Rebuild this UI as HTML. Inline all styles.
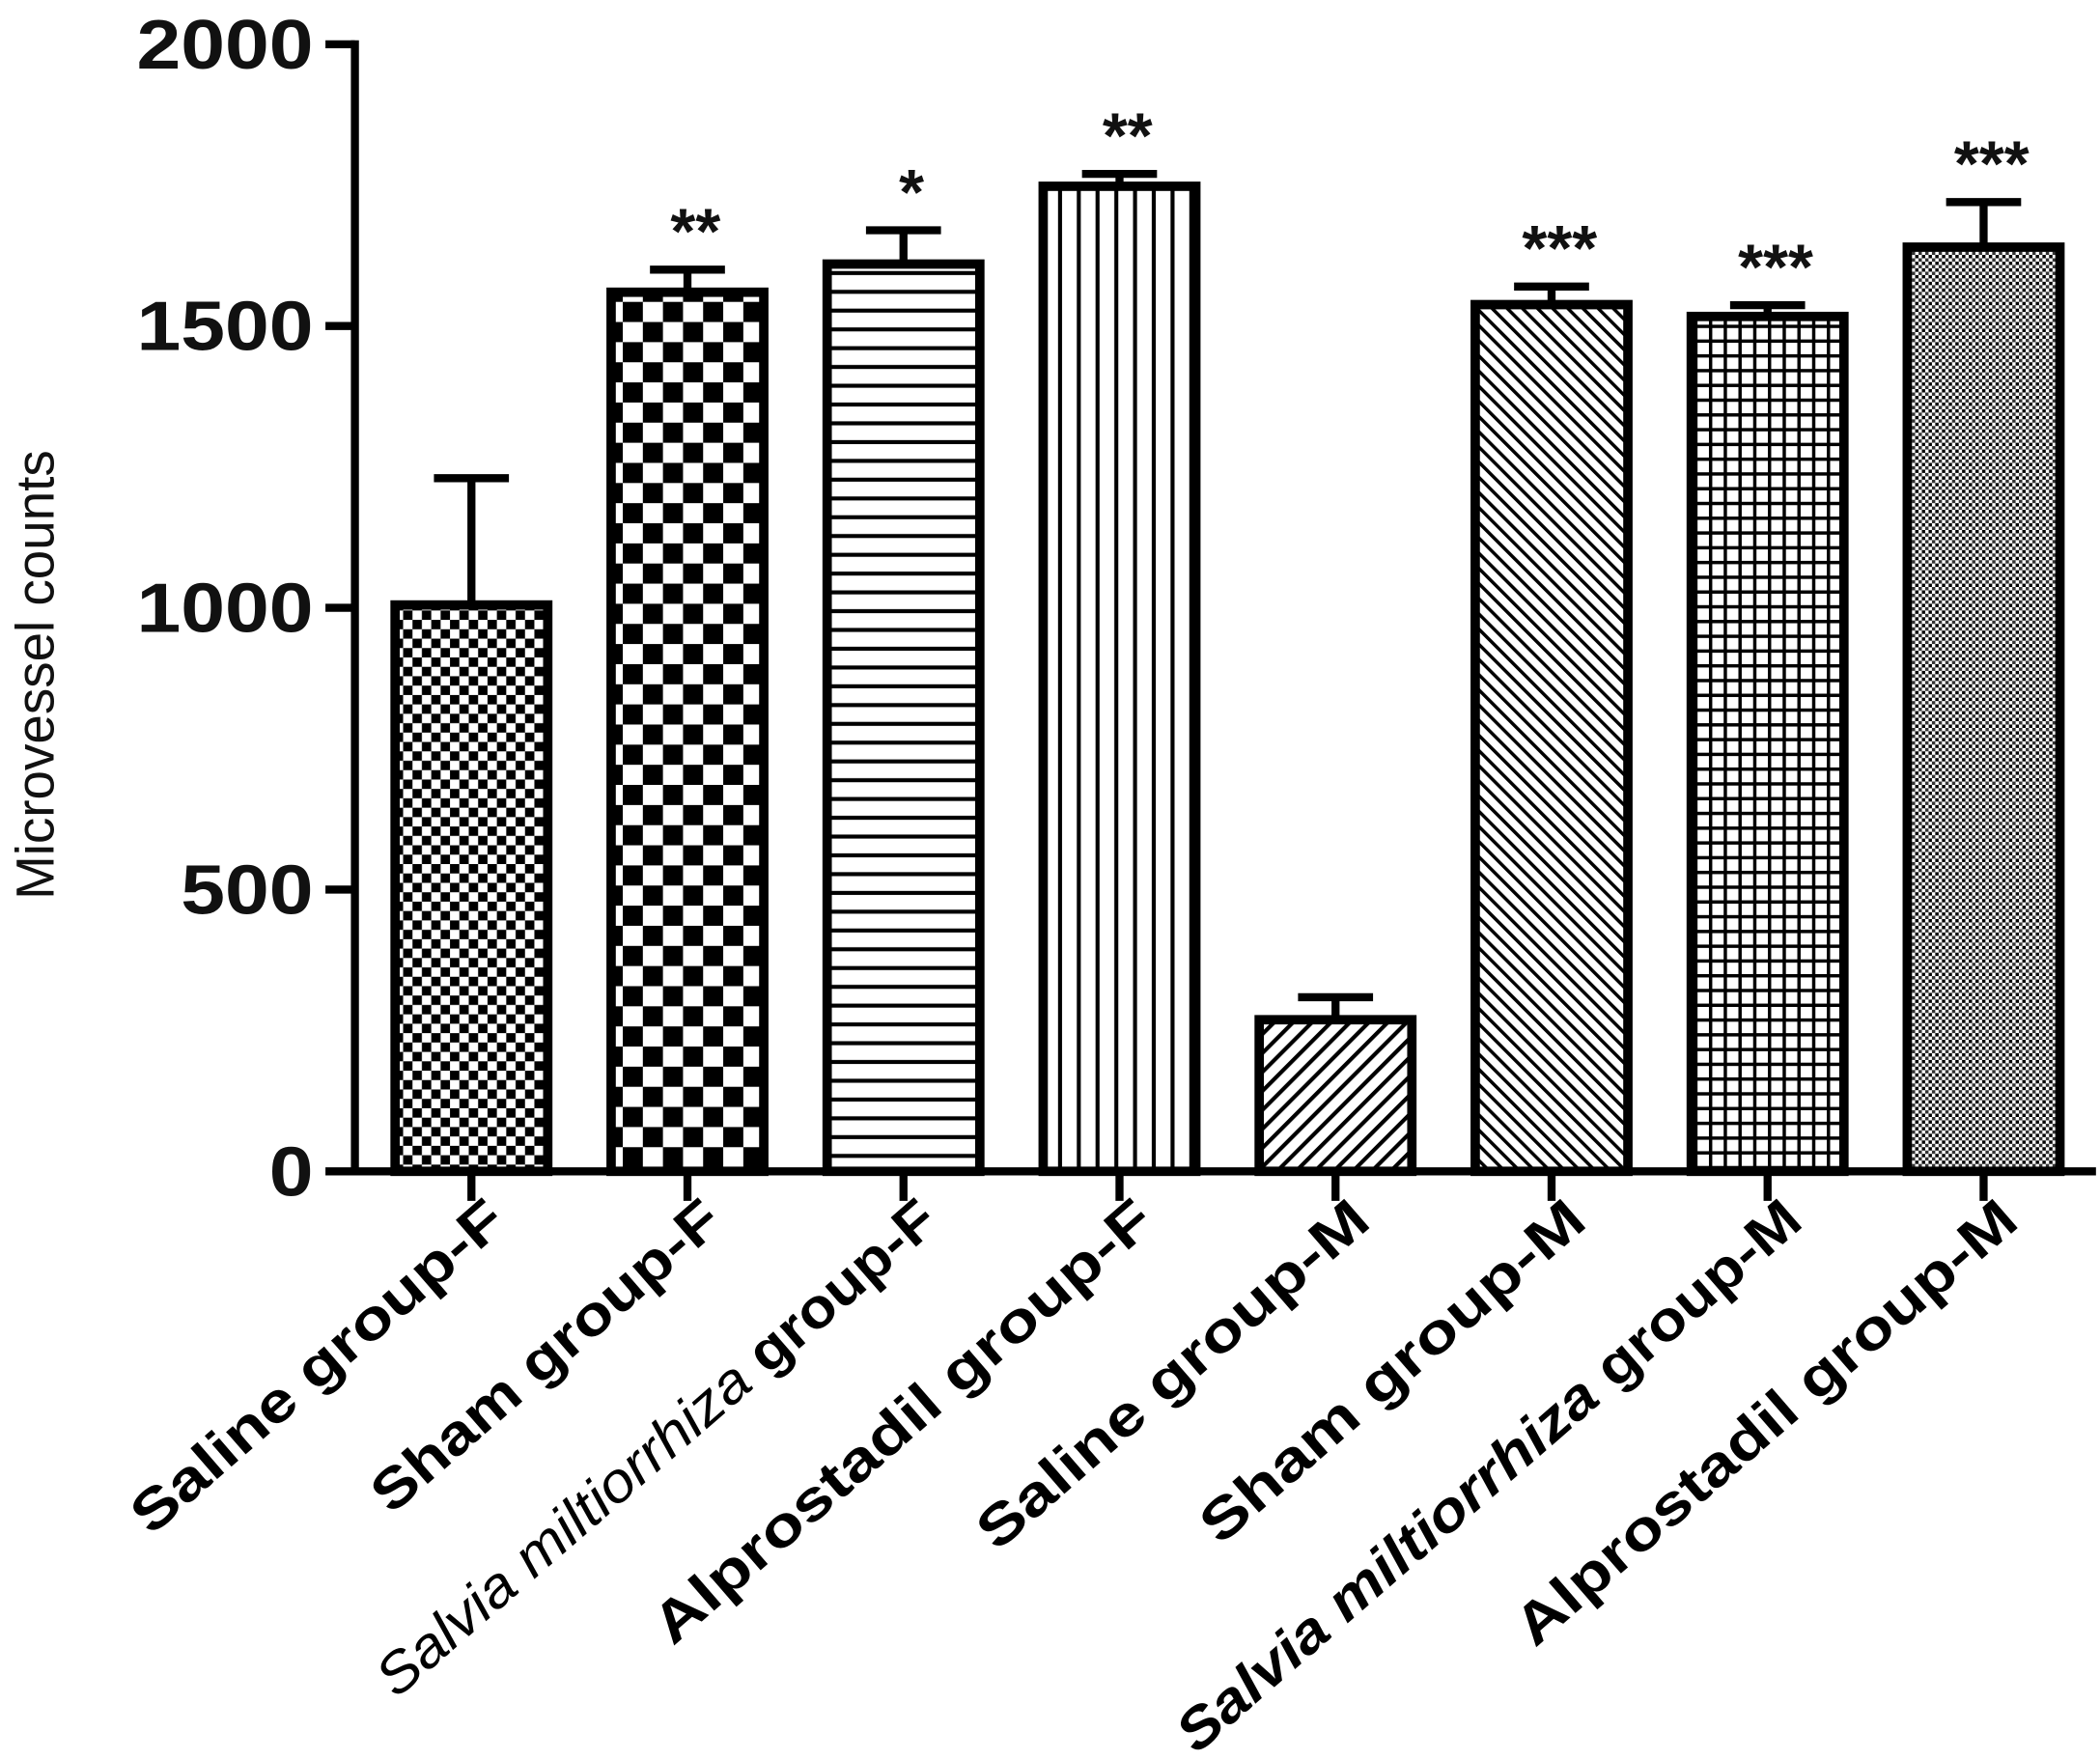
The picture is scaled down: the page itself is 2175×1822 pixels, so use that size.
<!DOCTYPE html>
<html><head><meta charset="utf-8"><style>
html,body{margin:0;padding:0;background:#fff}
svg{display:block}
</style></head><body>
<svg width="2175" height="1822" viewBox="0 0 1568 1311" preserveAspectRatio="none" xmlns="http://www.w3.org/2000/svg" font-family="Liberation Sans, sans-serif">
<defs>
<pattern id="p0" width="14" height="14" patternUnits="userSpaceOnUse"><rect width="14" height="14" fill="#fff"/><rect width="7" height="7" fill="#000"/><rect x="7" y="7" width="7" height="7" fill="#000"/></pattern>
<pattern id="p1" width="30" height="30" patternUnits="userSpaceOnUse"><rect width="30" height="30" fill="#fff"/><rect width="15" height="15" fill="#000"/><rect x="15" y="15" width="15" height="15" fill="#000"/></pattern>
<pattern id="p2" width="14" height="14" patternUnits="userSpaceOnUse"><rect width="14" height="14" fill="#fff"/><rect y="6" width="14" height="3" fill="#000"/></pattern>
<pattern id="p3" width="14" height="14" patternUnits="userSpaceOnUse"><rect width="14" height="14" fill="#fff"/><rect x="6" width="3" height="14" fill="#000"/></pattern>
<pattern id="p4" width="10" height="10" patternUnits="userSpaceOnUse" patternTransform="rotate(45)"><rect width="10" height="10" fill="#fff"/><rect width="3" height="10" fill="#000"/></pattern>
<pattern id="p5" width="8" height="8" patternUnits="userSpaceOnUse" patternTransform="rotate(-45)"><rect width="8" height="8" fill="#fff"/><rect width="2.5" height="8" fill="#000"/></pattern>
<pattern id="p6" width="11" height="11" patternUnits="userSpaceOnUse"><rect width="11" height="11" fill="#fff"/><rect width="2.5" height="11" fill="#000"/><rect width="11" height="2.5" fill="#000"/></pattern>
<pattern id="p7" width="5" height="5" patternUnits="userSpaceOnUse"><rect width="5" height="5" fill="#fff"/><rect width="2.5" height="2.5" fill="#000"/><rect x="2.5" y="2.5" width="2.5" height="2.5" fill="#333"/></pattern>
</defs>
<g id="plot"></g>
<text transform="translate(40,503) rotate(-90)" text-anchor="middle" font-size="40" textLength="335" lengthAdjust="spacingAndGlyphs" fill="#111">Microvessel counts</text>
<script>
const categories=["Saline group-F","Sham group-F","Salvia miltiorrhiza group-F","Alprostadil group-F","Saline group-M","Sham group-M","Salvia  miltiorrhiza group-M","Alprostadil group-M"];
const means=[1005,1560,1610,1748,269,1538,1517,1640];
const errs=[225,40,60,22,40,32,20,80];
const stars=["","**","*","**","","***","***","***"];
const yTicks=[0,500,1000,1500,2000];
const labelLens=[354,330,539,479,372,365,602,481];
const ns="http://www.w3.org/2000/svg";
const g=document.getElementById('plot');
const x0=265,y0=873,yTop=33,ymax=2000;
const y=v=>y0-(v/ymax)*(y0-yTop);
const step=161.3, first=352, bw=114;
const xc=i=>first+i*step;
function mk(t,a){const e=document.createElementNS(ns,t);for(const k in a)e.setAttribute(k,a[k]);g.appendChild(e);return e;}
let ax=mk('line',{x1:x0,y1:y(ymax)-3,x2:x0,y2:y0+3,stroke:'#000','stroke-width':6});


let bx=mk('line',{x1:x0-3,y1:y0,x2:1565,y2:y0,stroke:'#000','stroke-width':6});


yTicks.forEach(v=>{
 const t=mk('line',{x1:x0-22,y1:y(v),x2:x0,y2:y(v),stroke:'#000','stroke-width':6});
 
 
 const s=String(v);
 const l=mk('text',{x:234,y:y(v)+18,'text-anchor':'end','font-size':52,'font-weight':'bold',fill:'#111',textLength:s.length*33,lengthAdjust:'spacingAndGlyphs'});
 l.textContent=s;
 
 
});
categories.forEach((c,i)=>{
 const cx=xc(i),top=y(means[i]);
 const tk=mk('line',{x1:cx,y1:y0,x2:cx,y2:y0+22,stroke:'#000','stroke-width':6});
 
 
 const eb=mk('path',{d:`M${cx} ${top} V${y(means[i]+errs[i])} M${cx-28} ${y(means[i]+errs[i])} H${cx+28}`,stroke:'#000','stroke-width':6,fill:'none'});
 
 
 const r=mk('rect',{x:cx-bw/2,y:top,width:bw,height:y0-top,fill:`url(#p${i})`,stroke:'#000','stroke-width':7});
 
 
 if(stars[i]){
  const s=mk('text',{x:cx+6,y:y(means[i]+errs[i])-12,'text-anchor':'middle','font-size':48,'font-weight':'bold',fill:'#111'});
  s.textContent=stars[i];
  
  
 }
 const ital=c.startsWith('Salvia');
 const lb=mk('text',{transform:`translate(${cx+28},${y0+40}) rotate(-41)`,'text-anchor':'end','font-size':42,'font-weight':'bold',fill:'#000',textLength:labelLens[i],lengthAdjust:'spacingAndGlyphs'});
 
 
 if(ital){
  const m=c.match(/^(Salvia\s+miltiorrhiza)(.*)$/);
  const a=document.createElementNS(ns,'tspan');a.setAttribute('font-style','italic');
  if(i===2)a.setAttribute('font-weight','normal');
  a.textContent=m[1];
  lb.appendChild(a);lb.appendChild(document.createTextNode(m[2]));
 } else lb.textContent=c;
});
</script>
</svg>
</body></html>
